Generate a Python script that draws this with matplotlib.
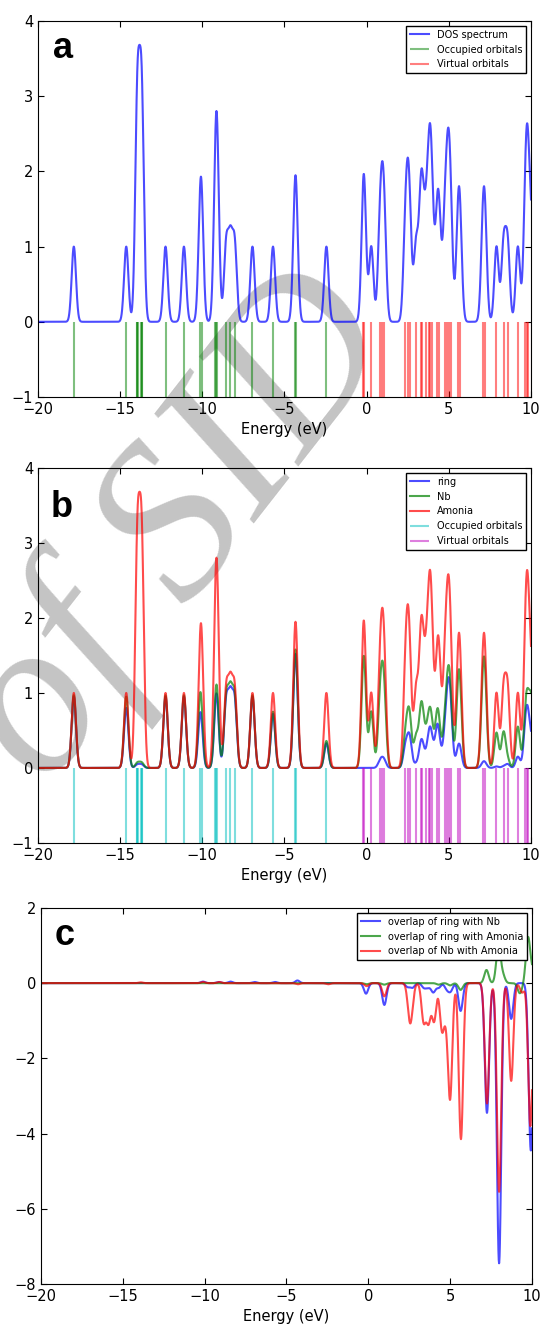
import numpy as np
import matplotlib
matplotlib.use("Agg")
import matplotlib.pyplot as plt

# Orbital energies (eV), with the fraction of
# each orbital that sits on the ring and on Nb (the rest is Amonia).
occ_energy = [-17.82, -14.63, -13.98, -13.95, -13.92, -13.72, -13.69, -13.66,
              -12.24, -11.12, -10.12, -10.05, -9.20, -9.14, -9.08, -8.55,
              -8.29, -8.03, -6.95, -5.70, -4.36, -4.30, -2.45]
occ_ring = [0.95, 0.80, 0.015, 0.015, 0.015, 0.015, 0.015, 0.015,
            0.95, 0.95, 0.70, 0.05, 0.03, 0.94, 0.03, 0.85,
            0.85, 0.85, 0.95, 0.72, 0.78, 0.78, 0.33]
occ_nb = [0.02, 0.15, 0.008, 0.008, 0.008, 0.008, 0.008, 0.008,
          0.02, 0.02, 0.25, 0.02, 0.01, 0.10, 0.01, 0.05,
          0.05, 0.05, 0.02, 0.03, 0.03, 0.03, 0.03]

virt_energy = [-0.20, -0.15, 0.28, 0.80, 0.95, 1.08, 2.35, 2.50, 2.62, 3.00,
               3.28, 3.38, 3.60, 3.78, 3.87, 3.98, 4.28, 4.42, 4.74, 4.90,
               5.00, 5.12, 5.56, 5.68, 7.08, 7.20, 7.90, 8.33, 8.58, 9.20,
               9.65, 9.75, 9.84, 10.04]
virt_ring = [0.0, 0.0, 0.0, 0.07, 0.07, 0.07, 0.25, 0.10, 0.35, 0.05,
             0.18, 0.22, 0.08, 0.25, 0.20, 0.20, 0.45, 0.20, 0.30, 0.45,
             0.50, 0.50, 0.18, 0.18, 0.05, 0.05, 0.02, 0.02, 0.05, 0.15,
             0.30, 0.35, 0.30, 0.30]
virt_nb = [0.76, 0.76, 0.75, 0.60, 0.60, 0.60, 0.10, 0.15, 0.20, 0.35,
           0.25, 0.25, 0.20, 0.08, 0.10, 0.10, 0.12, 0.12, 0.10, 0.06,
           0.06, 0.06, 0.55, 0.55, 0.80, 0.75, 0.45, 0.45, 0.05, 0.40,
           0.10, 0.05, 0.05, 0.50]

# Overlap populations for panel c (energy, value)
ring_nb_energy = [-10.10, -9.14, -8.42, -6.95, -5.70, -4.33, -0.14, 0.98, 2.40,
                  2.70, 3.40, 3.65, 3.97, 4.30, 4.80, 5.03, 5.64, 7.25, 7.99,
                  8.73, 9.93]
ring_nb_value = [0.04, 0.03, 0.04, 0.03, 0.03, 0.07, -0.28, -0.58, -0.10,
                 -0.12, -0.12, -0.10, -0.24, -0.12, -0.15, -0.20, -0.74, -3.45,
                 -7.45, -0.95, -4.45]
ring_am_energy = [-0.10, 0.98, 4.30, 5.00, 5.64, 7.22, 7.95, 8.22, 9.26, 9.76,
                  10.05]
ring_am_value = [-0.03, -0.04, -0.04, -0.06, -0.18, 0.35, 1.00, 0.20, -0.27,
                 1.20, 0.30]
nb_am_energy = [-13.90, -10.10, -9.10, -4.30, -2.45, -0.10, 0.98, 2.52, 2.65,
                3.38, 3.68, 4.02, 4.50, 4.75, 5.00, 5.66, 7.25, 7.99, 8.73,
                9.40, 9.90]
nb_am_value = [0.02, 0.03, 0.03, -0.03, -0.03, -0.08, -0.35, -0.75, -0.45,
               -1.00, -1.00, -1.00, -1.20, -0.60, -3.00, -4.15, -3.20, -5.55,
               -2.60, -0.25, -3.80]

FWHM = 0.31
energy_grid = np.linspace(-20, 10, 3001)

plt.rcParams['xtick.direction'] = 'in'
plt.rcParams['ytick.direction'] = 'in'
plt.rcParams['xtick.top'] = True
plt.rcParams['ytick.right'] = True
plt.rcParams['xtick.major.size'] = 4
plt.rcParams['ytick.major.size'] = 4
plt.rcParams['font.size'] = 10.5


def broaden(energies, weights):
    """Gaussian-broaden a stick spectrum onto the energy grid."""
    sigma = FWHM / (2 * np.sqrt(2 * np.log(2)))
    e = np.asarray(energies)[:, None]
    w = np.asarray(weights)[:, None]
    return (w * np.exp(-(energy_grid[None, :] - e) ** 2 / (2 * sigma ** 2))).sum(axis=0)


def style_axes(ax, letter, x, y):
    ax.set_facecolor('none')
    ax.set_xlim(-20, 10)
    ax.set_xticks([-20, -15, -10, -5, 0, 5, 10])
    ax.set_xlabel('Energy (eV)', fontsize=10.5)
    ax.text(x, y, letter, transform=ax.transAxes, fontsize=26, fontweight='bold',
            family='Liberation Sans', va='baseline', ha='left')


fig = plt.figure(figsize=(5.42, 13.26), dpi=100)

occ = np.array(occ_energy)
virt = np.array(virt_energy)
all_energy = np.concatenate([occ, virt])
total = broaden(all_energy, np.ones(len(all_energy)))
ring = broaden(all_energy, occ_ring + virt_ring)
nb = broaden(all_energy, occ_nb + virt_nb)

# Panel a: total DOS
ax_a = fig.add_axes([0.0701, 0.7006, 0.9096, 0.2836])
ax_a.plot(energy_grid, total, color='b', alpha=0.7, lw=1.5, label='DOS spectrum')
ax_a.vlines(occ, -1, 0, colors='g', alpha=0.5, lw=1.5, label='Occupied orbitals')
ax_a.vlines(virt, -1, 0, colors='r', alpha=0.5, lw=1.5, label='Virtual orbitals')
ax_a.set_ylim(-1, 4)
ax_a.set_yticks([-1, 0, 1, 2, 3, 4])
style_axes(ax_a, 'a', 0.03, 0.902)
ax_a.legend(loc='upper right', fontsize=7, fancybox=False, edgecolor='black',
            framealpha=1)

# Panel b: cumulative partial DOS
ax_b = fig.add_axes([0.0701, 0.3643, 0.9096, 0.2828])
ax_b.plot(energy_grid, ring, color='b', alpha=0.7, lw=1.5, label='ring')
ax_b.plot(energy_grid, ring + nb, color='g', alpha=0.7, lw=1.5, label='Nb')
ax_b.plot(energy_grid, total, color='r', alpha=0.7, lw=1.5, label='Amonia')
ax_b.vlines(occ, -1, 0, colors='c', alpha=0.5, lw=1.5, label='Occupied orbitals')
ax_b.vlines(virt, -1, 0, colors='m', alpha=0.5, lw=1.5, label='Virtual orbitals')
ax_b.set_ylim(-1, 4)
ax_b.set_yticks([-1, 0, 1, 2, 3, 4])
style_axes(ax_b, 'b', 0.025, 0.869)
ax_b.legend(loc='upper right', fontsize=7, fancybox=False, edgecolor='black',
            framealpha=1)

# Panel c: overlap populations
ax_c = fig.add_axes([0.0756, 0.0317, 0.9059, 0.2836])
ax_c.plot(energy_grid, broaden(ring_nb_energy, ring_nb_value), color='b', alpha=0.7,
          lw=1.5, label='overlap of ring with Nb')
ax_c.plot(energy_grid, broaden(ring_am_energy, ring_am_value), color='g', alpha=0.7,
          lw=1.5, label='overlap of ring with Amonia')
ax_c.plot(energy_grid, broaden(nb_am_energy, nb_am_value), color='r', alpha=0.7,
          lw=1.5, label='overlap of Nb with Amonia')
ax_c.set_ylim(-8, 2)
ax_c.set_yticks([-8, -6, -4, -2, 0, 2])
style_axes(ax_c, 'c', 0.028, 0.902)
ax_c.legend(loc='upper right', fontsize=7, fancybox=False, edgecolor='black',
            framealpha=1)

# grey watermark behind the panels
fig.text(0.33, 0.60, 'of SID', rotation=52, fontsize=160,
         family=['Liberation Serif', 'DejaVu Serif'], style='italic',
         color='#c4c4c4', ha='center', va='center', rotation_mode='anchor',
         zorder=-1)

fig.savefig('out.png', dpi=100)
plt.close(fig)
